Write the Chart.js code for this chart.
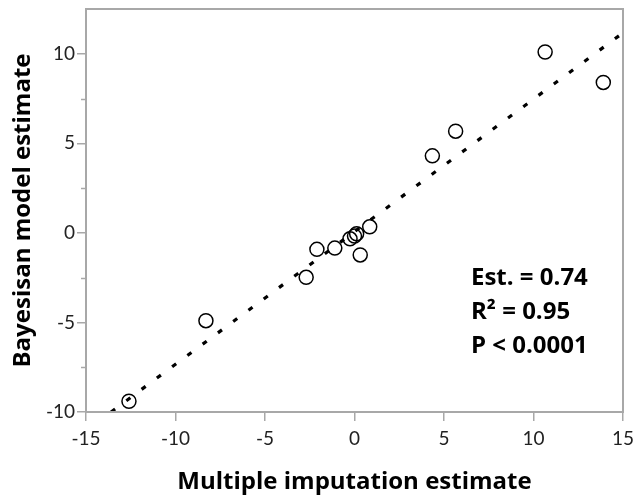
<!DOCTYPE html>
<html><head><meta charset="utf-8">
<script src="https://cdn.jsdelivr.net/npm/chart.js@4"></script>
<style>html,body{margin:0;padding:0;background:#fff}#wrap{width:637px;height:501px}</style>
</head><body><div id="wrap"><canvas id="c"></canvas></div>
<script>
// Data
const miEstimates    = [-12.6, -8.3, -2.7, -2.1, -1.1, -0.25, 0.0, 0.12, 0.32, 0.85, 4.35, 5.65, 10.65, 13.9];
const bayesEstimates = [-9.4,  -4.9, -2.48, -0.92, -0.85, -0.33, -0.18, -0.05, -1.23, 0.34, 4.3, 5.68, 10.1, 8.4];
const fitX = [-13.6, 15];
const fitY = [-10.0, 11.17];
const xTicks = [-15, -10, -5, 0, 5, 10, 15];
const yTicks = [-10, -5, 0, 5, 10];
const yMinorTicks = [-7.5, -2.5, 2.5, 7.5];
const statLines = ['Est. = 0.74', 'R\u00B2 = 0.95', 'P < 0.0001'];

const AXIS_GRAY = '#a8a8a8';
const TICK_FONT = 'Lato';
const TITLE_FONT = '"Open Sans"';

const points = miEstimates.map((x, i) => ({ x: x, y: bayesEstimates[i] }));
const fitLine = fitX.map((x, i) => ({ x: x, y: fitY[i] }));

function noPad(s) { s.paddingLeft = 0; s.paddingRight = 0; s.paddingTop = 0; s.paddingBottom = 0; }

const extrasPlugin = {
  id: 'extras',
  afterDraw(chart) {
    const { ctx, chartArea: a, scales } = chart;
    ctx.save();
    // frame
    ctx.strokeStyle = AXIS_GRAY;
    ctx.lineWidth = 2;
    ctx.strokeRect(a.left, a.top, a.right - a.left, a.bottom - a.top);
    // minor y ticks
    ctx.lineWidth = 1.5;
    yMinorTicks.forEach(v => {
      const py = Math.round(scales.y.getPixelForValue(v)) + 0.5;
      ctx.beginPath();
      ctx.moveTo(a.left - 5, py);
      ctx.lineTo(a.left, py);
      ctx.stroke();
    });
    // stats annotation
    ctx.fillStyle = '#000';
    ctx.font = 'bold 24px ' + TITLE_FONT;
    ctx.textAlign = 'left';
    ctx.textBaseline = 'alphabetic';
    statLines.forEach((t, i) => {
      ctx.fillText(t, 471, 285 + i * 34);
    });
    ctx.restore();
  }
};

new Chart(document.getElementById('c'), {
  type: 'scatter',
  data: {
    datasets: [
      {
        data: points,
        pointStyle: 'circle',
        pointRadius: 7,
        pointHoverRadius: 7,
        borderColor: '#000',
        backgroundColor: 'rgba(0,0,0,0)',
        pointBorderWidth: 1.5,
        order: 2
      },
      {
        data: fitLine,
        showLine: true,
        pointRadius: 0,
        borderColor: '#000',
        borderWidth: 3.2,
        borderDash: [5, 14],
        borderCapStyle: 'butt',
        fill: false,
        order: 1
      }
    ]
  },
  options: {
    responsive: true,
    maintainAspectRatio: false,
    animation: false,
    events: [],
    layout: { padding: { left: 0, top: 9, right: 14, bottom: 0 } },
    plugins: { legend: { display: false }, tooltip: { enabled: false } },
    scales: {
      x: {
        type: 'linear',
        min: -15, max: 15,
        afterFit(s) { s.height = 89; noPad(s); },
        afterBuildTicks(s) { s.ticks = xTicks.map(v => ({ value: v })); },
        ticks: { color: '#222', font: { family: TICK_FONT, size: 19 }, padding: 6, maxRotation: 0 },
        grid: { drawOnChartArea: false, drawTicks: true, tickLength: 9, color: AXIS_GRAY, lineWidth: 1.5 },
        border: { display: true, color: AXIS_GRAY, width: 2 },
        title: { display: true, text: 'Multiple imputation estimate', color: '#000',
                 font: { family: TITLE_FONT, size: 24, weight: 'bold' }, padding: { top: 0, bottom: 4 } }
      },
      y: {
        type: 'linear',
        min: -10, max: 12.5,
        afterFit(s) { s.width = 86; noPad(s); },
        afterBuildTicks(s) { s.ticks = yTicks.map(v => ({ value: v })); },
        ticks: { color: '#222', font: { family: TICK_FONT, size: 19 }, padding: 2 },
        grid: { drawOnChartArea: false, drawTicks: true, tickLength: 9, color: AXIS_GRAY, lineWidth: 1.5 },
        border: { display: true, color: AXIS_GRAY, width: 2 },
        title: { display: true, text: 'Bayesisan model estimate', color: '#000',
                 font: { family: TITLE_FONT, size: 24, weight: 'bold' }, padding: { top: 9, bottom: 0 } }
      }
    }
  },
  plugins: [extrasPlugin]
});
</script>
</body></html>
